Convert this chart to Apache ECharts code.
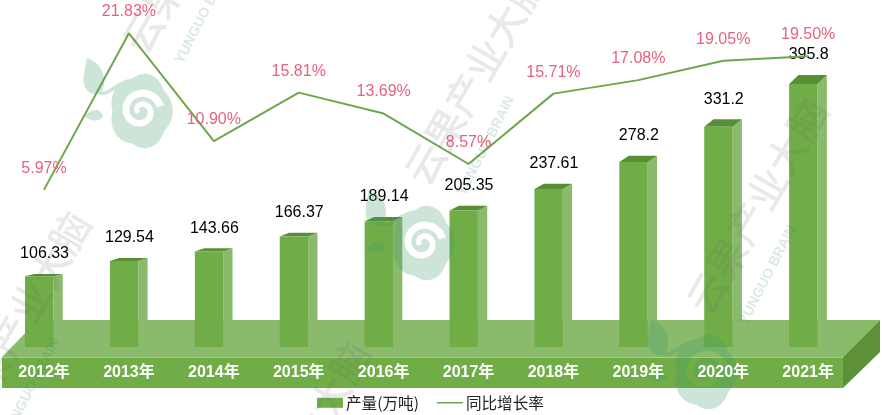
<!DOCTYPE html>
<html>
<head>
<meta charset="utf-8">
<style>html,body{margin:0;padding:0;background:#fff}#c{width:882px;height:415px}</style>
<script src="https://cdn.jsdelivr.net/npm/echarts@6/dist/echarts.min.js"></script>
</head>
<body>
<div id="c"></div>
<script>
const categories = ['2012年','2013年','2014年','2015年','2016年','2017年','2018年','2019年','2020年','2021年'];
const production = [106.33,129.54,143.66,166.37,189.14,205.35,237.61,278.2,331.2,395.8];
const productionLabels = ['106.33','129.54','143.66','166.37','189.14','205.35','237.61','278.2','331.2','395.8'];
const growth = [5.97,21.83,10.90,15.81,13.69,8.57,15.71,17.08,19.05,19.50];
const growthLabels = ['5.97%','21.83%','10.90%','15.81%','13.69%','8.57%','15.71%','17.08%','19.05%','19.50%'];
const seriesNames = ['产量(万吨)','同比增长率'];

const FRONT='#70ad47', TOP='#588f36', SIDE='#8aba6c', DARK='#5d9139', PINK='#e8617f';
const NUM_FONT='"Liberation Sans",Arial,sans-serif';
const CJK_FONT='"Noto Sans CJK SC","Noto Sans",sans-serif';

// decorative watermark anchors (swirl-logo centres)
const marks = [[141,111],[423,243],[705,372],[-32,485],[248,615]];

function logoPath(){
  let d='';
  const pts=[];
  for(let i=0;i<=120;i++){
    const a=i/120*Math.PI*2;
    const r=31+3.5*Math.abs(Math.cos(2.5*a));
    pts.push([r*Math.cos(a)*0.92, r*Math.sin(a)*1.1]);
  }
  d+='M'+pts.map(p=>p[0].toFixed(1)+','+p[1].toFixed(1)).join('L')+'Z';
  const inner=[],outer=[];
  for(let i=0;i<=80;i++){
    const t=i/80*Math.PI*3.1;
    const a=t+2.6;
    const r=3+t*1.75;
    const w=2.6+t*0.12;
    inner.push([(r-w)*Math.cos(a),(r-w)*Math.sin(a)]);
    outer.push([(r+w)*Math.cos(a),(r+w)*Math.sin(a)]);
  }
  const band=inner.concat(outer.reverse());
  d+='M'+band.map(p=>p[0].toFixed(1)+','+p[1].toFixed(1)).join('L')+'Z';
  d+='M-54,-53C-40,-48,-34,-36,-38,-22C-42,-14,-50,-16,-55,-22C-60,-30,-56,-42,-54,-53Z';
  d+='M-41,-20C-32,-17,-26,-30,-14,-30L-14,-26C-26,-26,-32,-12,-43,-17Z';
  d+='M-57,5C-46,-5,-40,-1,-38,5C-40,11,-50,11,-57,5Z';
  d+='M-75,-75L-75,-75ZM75,75L75,75Z';
  return d;
}
const LOGO=logoPath();

function renderWatermark(params,api){
  const children=[];
  marks.forEach(m=>{
    children.push({type:'path',shape:{pathData:LOGO,x:m[0]-75,y:m[1]-75,width:150,height:150,layout:'cover'},
      style:{fill:'rgba(60,150,110,0.26)'}});
    children.push({type:'text',x:m[0]+52,y:m[1]-166,rotation:60*Math.PI/180,
      style:{text:'云果产业大脑',x:0,y:0,align:'center',verticalAlign:'middle',
        font:'500 40px '+CJK_FONT,fill:'rgba(100,100,100,0.14)'}});
    children.push({type:'text',x:m[0]+63,y:m[1]-97,rotation:63*Math.PI/180,
      style:{text:'YUNGUO BRAIN',x:0,y:0,align:'center',verticalAlign:'middle',
        font:'bold 14px '+NUM_FONT,fill:'rgba(60,130,100,0.18)'}});
  });
  return {type:'group',children};
}

function renderBar(params,api){
  const i=api.value(0), v=api.value(1);
  const p=api.coord([i,v]), base=api.coord([i,0]);
  const band=api.size([1,0])[0];
  const x1=p[0]-band*0.224, x2=p[0]+band*0.11, x3=p[0]+band*0.22;
  const h=base[1]-p[1], dy=h*0.034, dx=x3-x2;
  const topY=p[1], backY=topY-dy;
  return {type:'group',children:[
    {type:'polygon',shape:{points:[[x2,topY],[x3,backY],[x3,base[1]-27],[x2,base[1]]]},style:{fill:SIDE}},
    {type:'polygon',shape:{points:[[x1,topY],[x1+dx,backY],[x3,backY],[x2,topY]]},style:{fill:TOP}},
    {type:'rect',shape:{x:x1,y:topY,width:x2-x1,height:h},style:{fill:FRONT}},
    {type:'text',z2:20,x:p[0]+0.5,y:backY-20,style:{text:productionLabels[i],x:0,y:0,align:'center',verticalAlign:'middle',
      font:'16px '+NUM_FONT,fill:'#000'}}
  ]};
}

const option={
  animation:false,
  backgroundColor:'#fff',
  textStyle:{fontFamily:CJK_FONT},
  grid:{left:1.6,right:31.4,top:8,bottom:68,containLabel:false},
  xAxis:{type:'category',data:categories,z:8,
    axisLine:{show:false},axisTick:{show:false},splitLine:{show:false},
    axisLabel:{interval:0,margin:18,color:'#fff',fontSize:16,fontWeight:'bold',
      fontFamily:'"Liberation Sans","Noto Sans CJK SC",sans-serif'}},
  yAxis:[
    {type:'value',min:0,max:510,show:false,splitLine:{show:false}},
    {type:'value',min:-10,max:24.4,show:false,splitLine:{show:false}}
  ],
  legend:{left:317,top:395,itemGap:18,itemWidth:26,itemHeight:10,
    selectedMode:false,padding:0,
    textStyle:{fontSize:15.6,color:'#222',fontFamily:CJK_FONT,padding:[0,0,0,-2]},
    data:[{name:seriesNames[0],icon:'rect'},
          {name:seriesNames[1],icon:'path://M0,0L0,0ZM0,4.2L26,4.2L26,5.8L0,5.8ZM26,10L26,10Z'}]},
  graphic:{elements:[
    {type:'polygon',z:-1,shape:{points:[[2,357],[38,320],[880,320],[843,357]]},style:{fill:SIDE}},
    {type:'rect',z:-1,shape:{x:2,y:357,width:841,height:31},style:{fill:FRONT}},
    {type:'rect',z:-1,shape:{x:2,y:357,width:841,height:1},style:{fill:'#a5cd8b'}},
    {type:'polygon',z:-1,shape:{points:[[843,357],[880,320],[880,352],[843,388]]},style:{fill:DARK}}
  ]},
  series:[
    {name:seriesNames[0],type:'custom',z:3,silent:true,coordinateSystem:'cartesian2d',yAxisIndex:0,
      itemStyle:{color:FRONT},
      encode:{x:0,y:1},
      data:production.map((v,i)=>[i,v]),
      renderItem:renderBar},
    {name:seriesNames[1],type:'line',z:4,yAxisIndex:1,symbol:'circle',symbolSize:1,showSymbol:true,smooth:false,
      lineStyle:{color:'#6fa64b',width:2},itemStyle:{color:'#6fa64b'},
      label:{show:true,position:'top',distance:13,fontSize:16,color:PINK,fontFamily:NUM_FONT,
        formatter:p=>growthLabels[p.dataIndex]},
      labelLayout:{hideOverlap:false},
      data:growth},
    {name:'watermark',type:'custom',z:6,silent:true,coordinateSystem:'none',
      data:[0],renderItem:renderWatermark}
  ]
};
const chart=echarts.init(document.getElementById('c'),null,{renderer:'canvas'});
chart.setOption(option);
</script>
</body>
</html>
